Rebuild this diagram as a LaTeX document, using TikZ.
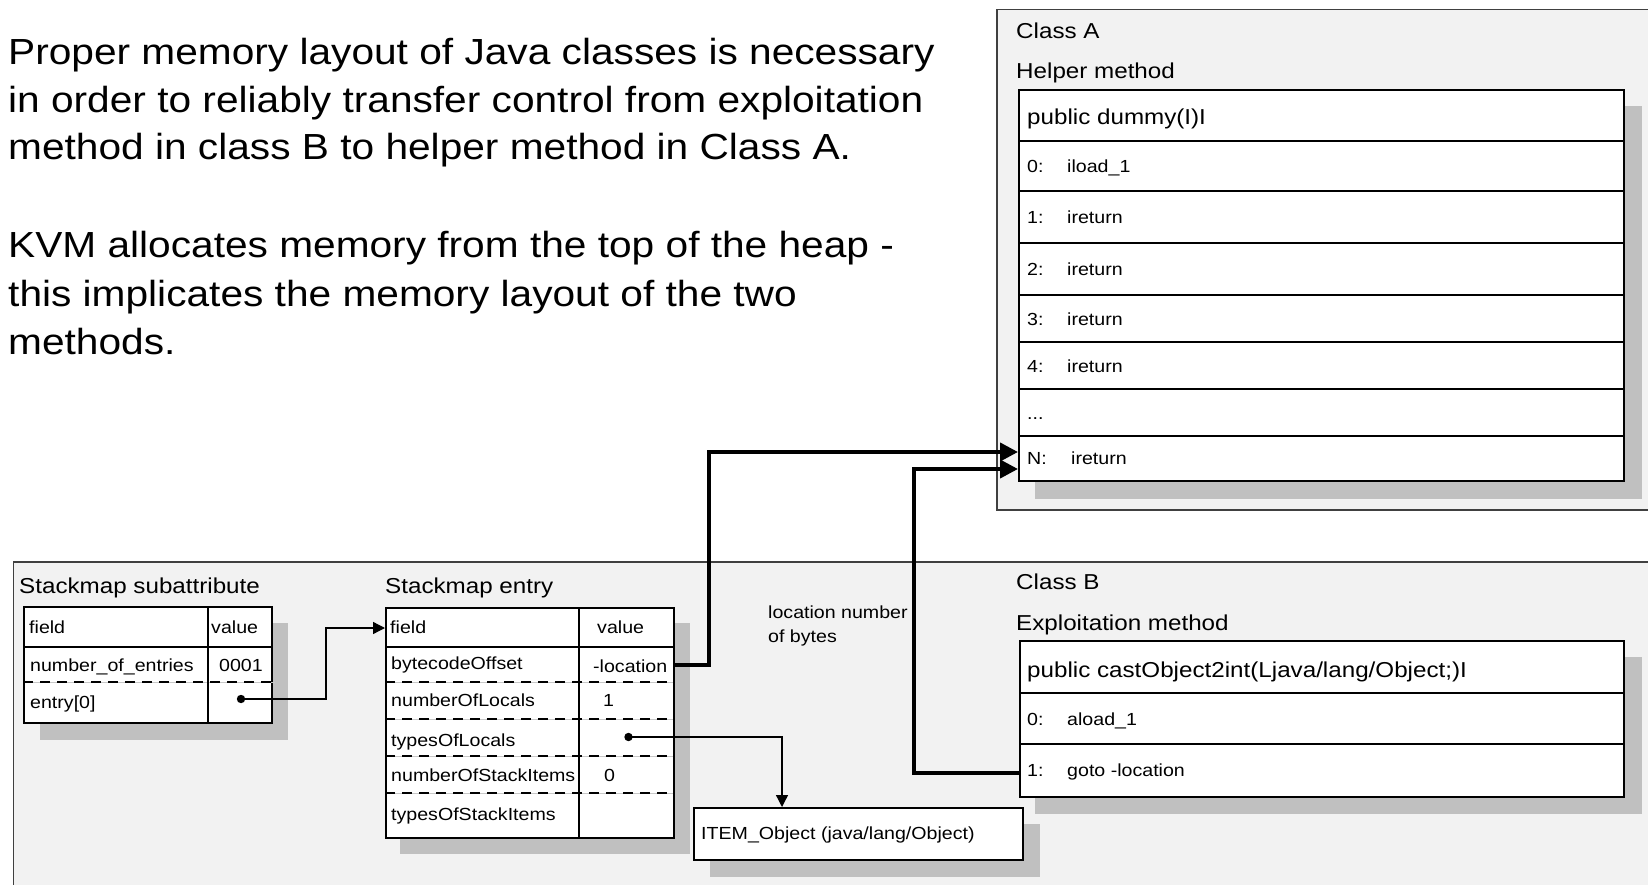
\documentclass[tikz,border=0pt]{standalone}
\usepackage{fontspec}
\setmainfont{Liberation Sans}[FakeStretch=1.12]
\usetikzlibrary{arrows.meta}
\definecolor{panelgray}{HTML}{F2F2F2}
\definecolor{panelline}{HTML}{404040}
\definecolor{shadowgray}{HTML}{C0C0C0}
\definecolor{seamgray}{HTML}{C8C8C8}
\newcommand\paraFont{\fontsize{36.3}{48}\selectfont}
\newcommand\headFont{\fontsize{21.6}{26}\selectfont}
\newcommand\cellFont{\fontsize{17.5}{21}\selectfont}
\begin{document}
\begin{tikzpicture}[x=1pt,y=-1pt,
  panel/.style={fill=panelgray, draw=panelline, line width=1.5pt},
  shade/.style={fill=shadowgray, draw=none},
  tablebox/.style={fill=white, draw=black, line width=2pt, inner sep=0pt, anchor=north west},
  rowline/.style={draw=black, line width=2pt},
  seam/.style={draw=seamgray, line width=1pt},
  dashrow/.style={draw=black, line width=2pt, dash pattern=on 10pt off 7pt},
  paratext/.style={font=\paraFont, anchor=base west, inner sep=0pt},
  headtext/.style={font=\headFont, anchor=base west, inner sep=0pt},
  celltext/.style={font=\cellFont, anchor=base west, inner sep=0pt},
  jump/.style={draw=black, line width=4pt, -{Triangle[length=18pt,width=18pt]}},
  pointer/.style={draw=black, line width=1.3pt, -{Triangle[length=12pt,width=12pt]}},
  dot/.style={fill=black}]

\useasboundingbox (0,0) rectangle (1648,885);
\clip (0,0) rectangle (1648,885);
\fill[white] (0,0) rectangle (1648,885);

% explanatory paragraph
\node[paratext] (p1) at (8,65)  {Proper memory layout of Java classes is necessary};
\node[paratext] (p2) at (8,113) {in order to reliably transfer control from exploitation};
\node[paratext] (p3) at (8,160) {method in class B to helper method in Class A.};
\node[paratext] (p4) at (8,258) {KVM allocates memory from the top of the heap -};
\node[paratext] (p5) at (8,306) {this implicates the memory layout of the two};
\node[paratext] (p6) at (8,354) {methods.};

% ---------- Class A ----------
\node[panel, anchor=north west, minimum width=680pt, minimum height=500pt, inner sep=0pt] (classA) at (996,9) {};
\node[headtext] (classAtitle) at (1016,39) {Class A};
\node[headtext] (helpertitle) at (1016,79) {Helper method};
\fill[shade] (1035,106) rectangle (1642,499);
\node[tablebox, minimum width=605pt, minimum height=391pt] (helper) at (1018,89) {};
\foreach \y in {141,191,243,295,342,389,436}
  \draw[rowline] (1018,\y) -- (1623,\y);
\node[headtext] (helpersig) at (1027,125) {public dummy(I)I};
\node[celltext] (hA0) at (1027,172.5) {0:};
\node[celltext] (hB0) at (1067,172.5) {iload\_1};
\node[celltext] (hA1) at (1027,223.5) {1:};
\node[celltext] (hB1) at (1067,223.5) {ireturn};
\node[celltext] (hA2) at (1027,275.5) {2:};
\node[celltext] (hB2) at (1067,275.5) {ireturn};
\node[celltext] (hA3) at (1027,325) {3:};
\node[celltext] (hB3) at (1067,325) {ireturn};
\node[celltext] (hA4) at (1027,372) {4:};
\node[celltext] (hB4) at (1067,372) {ireturn};
\node[celltext] (hA5) at (1027,419) {...};
\node[celltext] (hAN) at (1027,464.5) {N:};
\node[celltext] (hBN) at (1071,464.5) {ireturn};
\coordinate (nHigh) at (1018,452);
\coordinate (nLow)  at (1018,469);

% ---------- lower panel ----------
\node[panel, anchor=north west, minimum width=1680pt, minimum height=360pt, inner sep=0pt] (lower) at (12.5,561) {};

% Stackmap subattribute
\node[headtext] (subtitle) at (19,593) {Stackmap subattribute};
\fill[shade] (40,623) rectangle (288,740);
\node[tablebox, minimum width=248pt, minimum height=116pt] (subtab) at (23,606) {};
\draw[rowline] (23,647) -- (271,647);
\draw[seam] (23,682) -- (275,682);
\draw[dashrow] (23,682) -- (275,682);
\draw[rowline] (208,606) -- (208,722);
\node[celltext] (sf) at (29,633) {field};
\node[celltext] (sv) at (211,633) {value};
\node[celltext] (sn) at (30,671) {number\_of\_entries};
\node[celltext] (sn1) at (219,671) {0001};
\node[celltext] (se) at (30,708) {entry[0]};
\coordinate (entryDot) at (241,699);
\coordinate (entryIn) at (385,628);

% Stackmap entry
\node[headtext] (entrytitle) at (385,593) {Stackmap entry};
\fill[shade] (400,623) rectangle (690,854);
\node[tablebox, minimum width=288pt, minimum height=230pt] (entrytab) at (385,607) {};
\draw[rowline] (385,647) -- (673,647);
\foreach \y in {682,719,756,793} {
  \draw[seam] (385,\y) -- (673,\y);
  \draw[dashrow] (385,\y) -- (673,\y);
}
\draw[rowline] (579,607) -- (579,837);
\node[celltext] (ef) at (390,633.5) {field};
\node[celltext] (ev) at (597,633.5) {value};
\node[celltext] (eb) at (391,669) {bytecodeOffset};
\node[celltext] (ebv) at (593,672) {-location};
\node[celltext] (enl) at (391,706) {numberOfLocals};
\node[celltext] (enlv) at (603,706) {1};
\node[celltext] (etl) at (391,746) {typesOfLocals};
\node[celltext] (ens) at (391,781) {numberOfStackItems};
\node[celltext] (ensv) at (604,781) {0};
\node[celltext] (ets) at (391,820) {typesOfStackItems};
\coordinate (locOut) at (673,665);
\coordinate (localsDot) at (628.5,737);

% item type box
\fill[shade] (710,824) rectangle (1040,877);
\node[tablebox, minimum width=329pt, minimum height=52pt] (itembox) at (693,807) {};
\node[celltext] (itemtext) at (701,839.5) {ITEM\_Object (java/lang/Object)};
\coordinate (itemIn) at (782,807);

% note next to the jump
\node[celltext] (note1) at (768,618.5) {location number};
\node[celltext] (note2) at (768,642.5) {of bytes};

% ---------- Class B ----------
\node[headtext] (classBtitle) at (1016,589) {Class B};
\node[headtext] (exploittitle) at (1016,630) {Exploitation method};
\fill[shade] (1035,657) rectangle (1642,814);
\node[tablebox, minimum width=604pt, minimum height=156pt] (exploit) at (1019,640) {};
\draw[rowline] (1019,693) -- (1623,693);
\draw[rowline] (1019,744) -- (1623,744);
\node[headtext] (exploitsig) at (1027,677) {public castObject2int(Ljava/lang/Object;)I};
\node[celltext] (xA0) at (1027,725) {0:};
\node[celltext] (xB0) at (1067,725) {aload\_1};
\node[celltext] (xA1) at (1027,776.5) {1:};
\node[celltext] (xB1) at (1067,776.5) {goto -location};
\coordinate (gotoOut) at (1019,773);

% ---------- connectors ----------
\draw[pointer] (entryDot) -- ++(85,0) |- (entryIn);
\draw[pointer] (localsDot) -| (itemIn);
\draw[jump] (locOut) -- ++(35.5,0) |- (nHigh);
\draw[jump] (gotoOut) -- ++(-105,0) |- (nLow);
\fill[dot] (entryDot) circle (4.2pt);
\fill[dot] (localsDot) circle (4.2pt);
\end{tikzpicture}
\end{document}
